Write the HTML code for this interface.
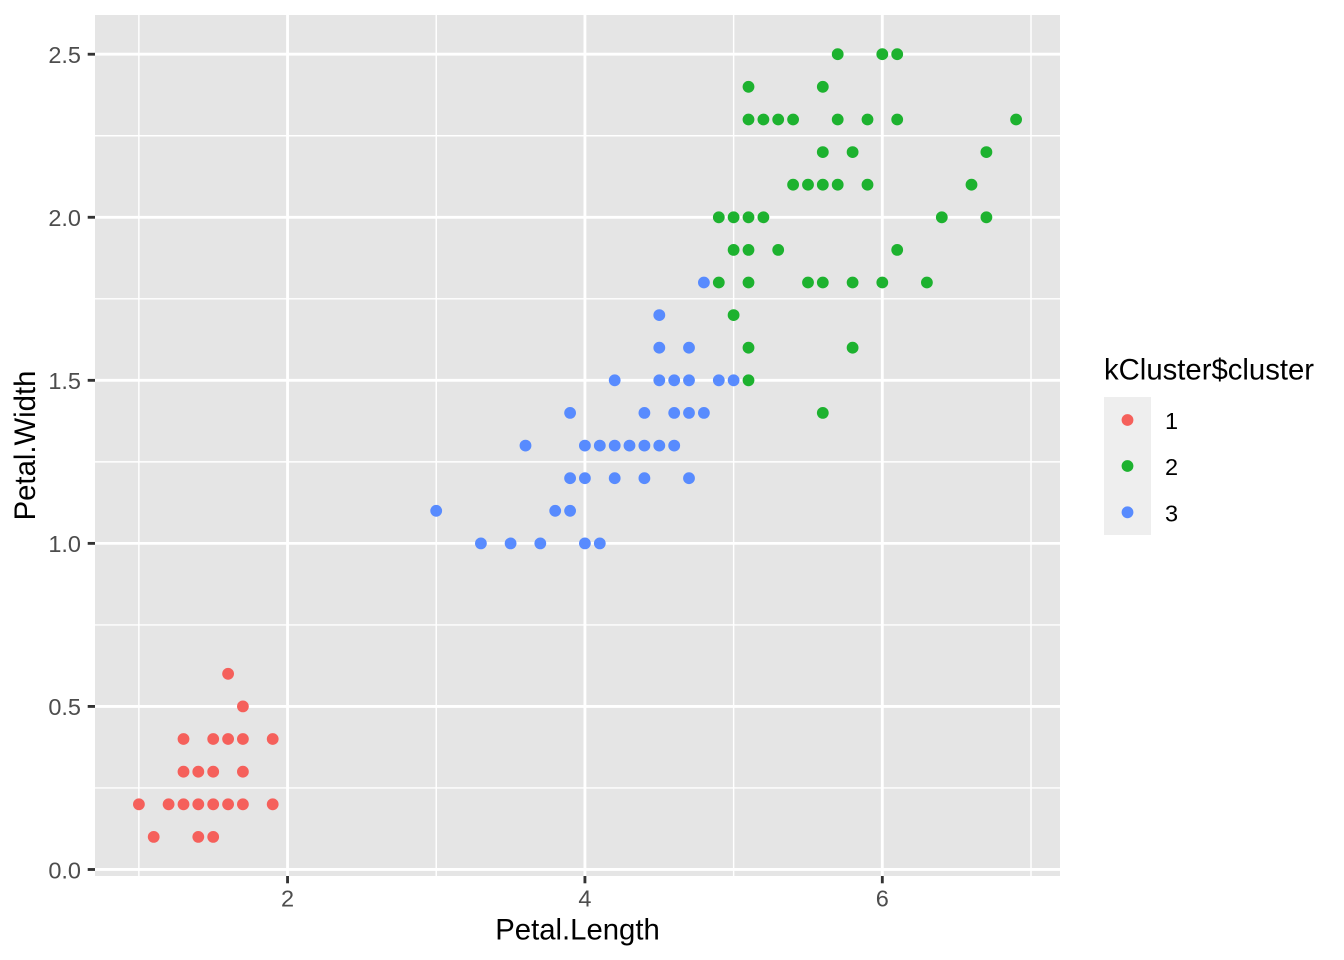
<!DOCTYPE html>
<html>
<head>
<meta charset="utf-8">
<style>
html,body{margin:0;padding:0;background:#fff;}
svg{display:block;}
text{font-family:"Liberation Sans",Arial,Helvetica,sans-serif;}
</style>
</head>
<body>
<svg width="1344" height="960" viewBox="0 0 1344 960" xmlns="http://www.w3.org/2000/svg">
<rect x="0" y="0" width="1344" height="960" fill="#ffffff"/>
<rect x="95" y="15" width="965" height="861" fill="#E5E5E5"/>
<g stroke="#ffffff" stroke-width="1.42" fill="none">
<line x1="95" x2="1060" y1="787.96" y2="787.96"/>
<line x1="95" x2="1060" y1="624.91" y2="624.91"/>
<line x1="95" x2="1060" y1="461.86" y2="461.86"/>
<line x1="95" x2="1060" y1="298.81" y2="298.81"/>
<line x1="95" x2="1060" y1="135.76" y2="135.76"/>
<line y1="15" y2="876" x1="138.86" x2="138.86"/>
<line y1="15" y2="876" x1="436.24" x2="436.24"/>
<line y1="15" y2="876" x1="733.62" x2="733.62"/>
<line y1="15" y2="876" x1="1031" x2="1031"/>
</g>
<g stroke="#ffffff" stroke-width="2.85" fill="none">
<line x1="95" x2="1060" y1="869.48" y2="869.48"/>
<line x1="95" x2="1060" y1="706.43" y2="706.43"/>
<line x1="95" x2="1060" y1="543.38" y2="543.38"/>
<line x1="95" x2="1060" y1="380.33" y2="380.33"/>
<line x1="95" x2="1060" y1="217.28" y2="217.28"/>
<line x1="95" x2="1060" y1="54.23" y2="54.23"/>
<line y1="15" y2="876" x1="287.55" x2="287.55"/>
<line y1="15" y2="876" x1="584.93" x2="584.93"/>
<line y1="15" y2="876" x1="882.31" x2="882.31"/>
</g>
<g fill="#F5605B">
<circle cx="138.9" cy="804.3" r="5.9"/>
<circle cx="153.7" cy="836.9" r="5.9"/>
<circle cx="168.6" cy="804.3" r="5.9"/>
<circle cx="183.5" cy="804.3" r="5.9"/>
<circle cx="183.5" cy="771.7" r="5.9"/>
<circle cx="183.5" cy="739.0" r="5.9"/>
<circle cx="198.3" cy="836.9" r="5.9"/>
<circle cx="198.3" cy="804.3" r="5.9"/>
<circle cx="198.3" cy="771.7" r="5.9"/>
<circle cx="213.2" cy="836.9" r="5.9"/>
<circle cx="213.2" cy="804.3" r="5.9"/>
<circle cx="213.2" cy="771.7" r="5.9"/>
<circle cx="213.2" cy="739.0" r="5.9"/>
<circle cx="228.1" cy="804.3" r="5.9"/>
<circle cx="228.1" cy="739.0" r="5.9"/>
<circle cx="228.1" cy="673.8" r="5.9"/>
<circle cx="242.9" cy="804.3" r="5.9"/>
<circle cx="242.9" cy="771.7" r="5.9"/>
<circle cx="242.9" cy="739.0" r="5.9"/>
<circle cx="242.9" cy="706.4" r="5.9"/>
<circle cx="272.7" cy="804.3" r="5.9"/>
<circle cx="272.7" cy="739.0" r="5.9"/>
</g>
<g fill="#588BFE">
<circle cx="703.9" cy="282.5" r="5.9"/>
<circle cx="659.3" cy="315.1" r="5.9"/>
<circle cx="659.3" cy="347.7" r="5.9"/>
<circle cx="689.0" cy="347.7" r="5.9"/>
<circle cx="614.7" cy="380.3" r="5.9"/>
<circle cx="659.3" cy="380.3" r="5.9"/>
<circle cx="674.2" cy="380.3" r="5.9"/>
<circle cx="689.0" cy="380.3" r="5.9"/>
<circle cx="718.8" cy="380.3" r="5.9"/>
<circle cx="733.6" cy="380.3" r="5.9"/>
<circle cx="570.1" cy="412.9" r="5.9"/>
<circle cx="644.4" cy="412.9" r="5.9"/>
<circle cx="674.2" cy="412.9" r="5.9"/>
<circle cx="689.0" cy="412.9" r="5.9"/>
<circle cx="703.9" cy="412.9" r="5.9"/>
<circle cx="525.5" cy="445.6" r="5.9"/>
<circle cx="584.9" cy="445.6" r="5.9"/>
<circle cx="599.8" cy="445.6" r="5.9"/>
<circle cx="614.7" cy="445.6" r="5.9"/>
<circle cx="629.5" cy="445.6" r="5.9"/>
<circle cx="644.4" cy="445.6" r="5.9"/>
<circle cx="659.3" cy="445.6" r="5.9"/>
<circle cx="674.2" cy="445.6" r="5.9"/>
<circle cx="570.1" cy="478.2" r="5.9"/>
<circle cx="584.9" cy="478.2" r="5.9"/>
<circle cx="614.7" cy="478.2" r="5.9"/>
<circle cx="644.4" cy="478.2" r="5.9"/>
<circle cx="689.0" cy="478.2" r="5.9"/>
<circle cx="436.2" cy="510.8" r="5.9"/>
<circle cx="555.2" cy="510.8" r="5.9"/>
<circle cx="570.1" cy="510.8" r="5.9"/>
<circle cx="480.9" cy="543.4" r="5.9"/>
<circle cx="510.6" cy="543.4" r="5.9"/>
<circle cx="540.3" cy="543.4" r="5.9"/>
<circle cx="584.9" cy="543.4" r="5.9"/>
<circle cx="599.8" cy="543.4" r="5.9"/>
</g>
<g fill="#1DB22F">
<circle cx="837.7" cy="54.2" r="5.9"/>
<circle cx="882.3" cy="54.2" r="5.9"/>
<circle cx="897.2" cy="54.2" r="5.9"/>
<circle cx="748.5" cy="86.8" r="5.9"/>
<circle cx="822.8" cy="86.8" r="5.9"/>
<circle cx="748.5" cy="119.5" r="5.9"/>
<circle cx="763.4" cy="119.5" r="5.9"/>
<circle cx="778.2" cy="119.5" r="5.9"/>
<circle cx="793.1" cy="119.5" r="5.9"/>
<circle cx="837.7" cy="119.5" r="5.9"/>
<circle cx="867.5" cy="119.5" r="5.9"/>
<circle cx="897.2" cy="119.5" r="5.9"/>
<circle cx="1016.1" cy="119.5" r="5.9"/>
<circle cx="822.8" cy="152.1" r="5.9"/>
<circle cx="852.6" cy="152.1" r="5.9"/>
<circle cx="986.4" cy="152.1" r="5.9"/>
<circle cx="793.1" cy="184.7" r="5.9"/>
<circle cx="808.0" cy="184.7" r="5.9"/>
<circle cx="822.8" cy="184.7" r="5.9"/>
<circle cx="837.7" cy="184.7" r="5.9"/>
<circle cx="867.5" cy="184.7" r="5.9"/>
<circle cx="971.5" cy="184.7" r="5.9"/>
<circle cx="718.8" cy="217.3" r="5.9"/>
<circle cx="733.6" cy="217.3" r="5.9"/>
<circle cx="748.5" cy="217.3" r="5.9"/>
<circle cx="763.4" cy="217.3" r="5.9"/>
<circle cx="941.8" cy="217.3" r="5.9"/>
<circle cx="986.4" cy="217.3" r="5.9"/>
<circle cx="733.6" cy="249.9" r="5.9"/>
<circle cx="748.5" cy="249.9" r="5.9"/>
<circle cx="778.2" cy="249.9" r="5.9"/>
<circle cx="897.2" cy="249.9" r="5.9"/>
<circle cx="718.8" cy="282.5" r="5.9"/>
<circle cx="748.5" cy="282.5" r="5.9"/>
<circle cx="808.0" cy="282.5" r="5.9"/>
<circle cx="822.8" cy="282.5" r="5.9"/>
<circle cx="852.6" cy="282.5" r="5.9"/>
<circle cx="882.3" cy="282.5" r="5.9"/>
<circle cx="926.9" cy="282.5" r="5.9"/>
<circle cx="733.6" cy="315.1" r="5.9"/>
<circle cx="748.5" cy="347.7" r="5.9"/>
<circle cx="852.6" cy="347.7" r="5.9"/>
<circle cx="748.5" cy="380.3" r="5.9"/>
<circle cx="822.8" cy="412.9" r="5.9"/>
</g>
<g stroke="#333333" stroke-width="2.85">
<line x1="87.7" x2="95" y1="869.48" y2="869.48"/>
<line x1="87.7" x2="95" y1="706.43" y2="706.43"/>
<line x1="87.7" x2="95" y1="543.38" y2="543.38"/>
<line x1="87.7" x2="95" y1="380.33" y2="380.33"/>
<line x1="87.7" x2="95" y1="217.28" y2="217.28"/>
<line x1="87.7" x2="95" y1="54.23" y2="54.23"/>
<line y1="876" y2="883.3" x1="287.55" x2="287.55"/>
<line y1="876" y2="883.3" x1="584.93" x2="584.93"/>
<line y1="876" y2="883.3" x1="882.31" x2="882.31"/>
</g>
<g fill="#4D4D4D" font-size="23.5" text-anchor="end">
<text x="81" y="878.3">0.0</text>
<text x="81" y="715.2">0.5</text>
<text x="81" y="552.2">1.0</text>
<text x="81" y="389.1">1.5</text>
<text x="81" y="226.1">2.0</text>
<text x="81" y="63.0">2.5</text>
</g>
<g fill="#4D4D4D" font-size="23.5" text-anchor="middle">
<text x="287.55" y="906.5">2</text>
<text x="584.93" y="906.5">4</text>
<text x="882.31" y="906.5">6</text>
</g>
<text x="577.5" y="939.3" font-size="29.3" text-anchor="middle" fill="#000">Petal.Length</text>
<text transform="translate(35,445.5) rotate(-90)" x="0" y="0" font-size="29.3" text-anchor="middle" fill="#000">Petal.Width</text>
<text x="1104" y="379.5" font-size="29.3" fill="#000">kCluster$cluster</text>
<rect x="1104" y="397" width="47" height="138" fill="#EEEEEE"/>
<circle cx="1127.5" cy="420" r="5.9" fill="#F5605B"/>
<circle cx="1127.5" cy="466" r="5.9" fill="#1DB22F"/>
<circle cx="1127.5" cy="512.3" r="5.9" fill="#588BFE"/>
<g fill="#000" font-size="23.5">
<text x="1165" y="429">1</text>
<text x="1165" y="475">2</text>
<text x="1165" y="521.3">3</text>
</g>
</svg>
</body>
</html>
